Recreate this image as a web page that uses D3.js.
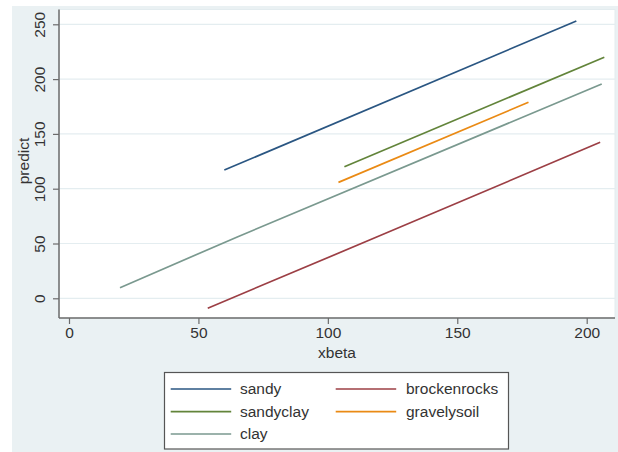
<!DOCTYPE html>
<html><head><meta charset="utf-8">
<script src="https://cdn.jsdelivr.net/npm/d3@7"></script>
<style>body{margin:0;background:#fff;}svg{display:block;font-family:"Liberation Sans",Arial,sans-serif;}</style>
</head><body>
<svg id="c" width="618" height="452"></svg>
<script>
const seriesNames = ["sandy","brockenrocks","sandyclay","gravelysoil","clay"];
const seriesColors = ["#2a5682","#9c3f45","#62843a","#ea8a14","#7a998f"];
const sandy = [[60,117],[196,253]];
const brockenrocks = [[53.6,-9],[120,57],[205.2,142.3]];
const sandyclay = [[106.4,120],[206.8,220]];
const gravelysoil = [[104.1,105.8],[177.5,178.8]];
const clay = [[19.7,9.7],[65,56],[205.8,195.5]];
const xTicks = [0,50,100,150,200];
const yTicks = [0,50,100,150,200,250];
const seriesData = [sandy,brockenrocks,sandyclay,gravelysoil,clay];

const svg = d3.select("#c");
svg.append("rect").attr("x",12).attr("y",6).attr("width",606).attr("height",446).attr("fill","#eaf1f3");
const L=59,R=615,T=9.5,B=318;
svg.append("rect").attr("x",L).attr("y",T).attr("width",R-L).attr("height",B-T).attr("fill","#fff").attr("stroke","#e3ecef").attr("stroke-width",1);

const x = d3.scaleLinear().domain([0,200]).range([69,586.7]);
const y = d3.scaleLinear().domain([0,250]).range([298.3,24.3]);

// grid
svg.append("g").selectAll("line").data(yTicks).join("line")
  .attr("x1",L).attr("x2",R).attr("y1",d=>y(d)).attr("y2",d=>y(d))
  .attr("stroke","#e4edf0").attr("stroke-width",1.2);

// axes
const yAxis = svg.append("g").attr("transform",`translate(${L},0)`)
  .call(d3.axisLeft(y).tickValues(yTicks).tickSize(6).tickPadding(6));
yAxis.select(".domain").attr("d",`M0,${T}V${B}`).attr("stroke","#6b6b6b").attr("stroke-width",1.5);
yAxis.selectAll(".tick line").attr("stroke","#6b6b6b").attr("stroke-width",1.2);
yAxis.selectAll(".tick text").attr("font-size",15.5).attr("fill","#333").attr("text-anchor","middle")
  .attr("transform","translate(-19,0) rotate(-90)").attr("x",0).attr("y",0).attr("dy","0.35em");

const xAxis = svg.append("g").attr("transform",`translate(0,${B})`)
  .call(d3.axisBottom(x).tickValues(xTicks).tickSize(6).tickPadding(3));
xAxis.select(".domain").attr("d",`M${L},0H${R}`).attr("stroke","#6b6b6b").attr("stroke-width",1.5);
xAxis.selectAll(".tick line").attr("stroke","#6b6b6b").attr("stroke-width",1.2);
xAxis.selectAll(".tick text").attr("font-size",15.5).attr("fill","#333");

svg.append("text").attr("x",337).attr("y",358).attr("text-anchor","middle").attr("font-size",15.5).attr("fill","#333").text("xbeta");
svg.append("text").attr("transform","translate(28.5,161) rotate(-90)").attr("text-anchor","middle").attr("font-size",15.5).attr("fill","#333").text("predict");

// lines
const line = d3.line().x(d=>x(d[0])).y(d=>y(d[1]));
svg.append("g").selectAll("path").data(seriesData).join("path")
  .attr("d",line).attr("fill","none").attr("stroke",(d,i)=>seriesColors[i]).attr("stroke-width",1.7);

// legend
const lg = svg.append("g");
lg.append("rect").attr("x",164.5).attr("y",372.5).attr("width",344).attr("height",76.5).attr("fill","#fff").attr("stroke","#555").attr("stroke-width",1.2);
const cols=[[170.7,240],[335.7,406]], rows=[389,411.7,434];
seriesNames.forEach((n,i)=>{
  const c = cols[i%2], r = rows[Math.floor(i/2)];
  lg.append("line").attr("x1",c[0]).attr("x2",c[0]+60.5).attr("y1",r).attr("y2",r).attr("stroke",seriesColors[i]).attr("stroke-width",1.7);
  lg.append("text").attr("x",c[1]).attr("y",r).attr("dy","0.35em").attr("font-size",15.5).attr("fill","#333").text(n);
});
</script>
</body></html>
